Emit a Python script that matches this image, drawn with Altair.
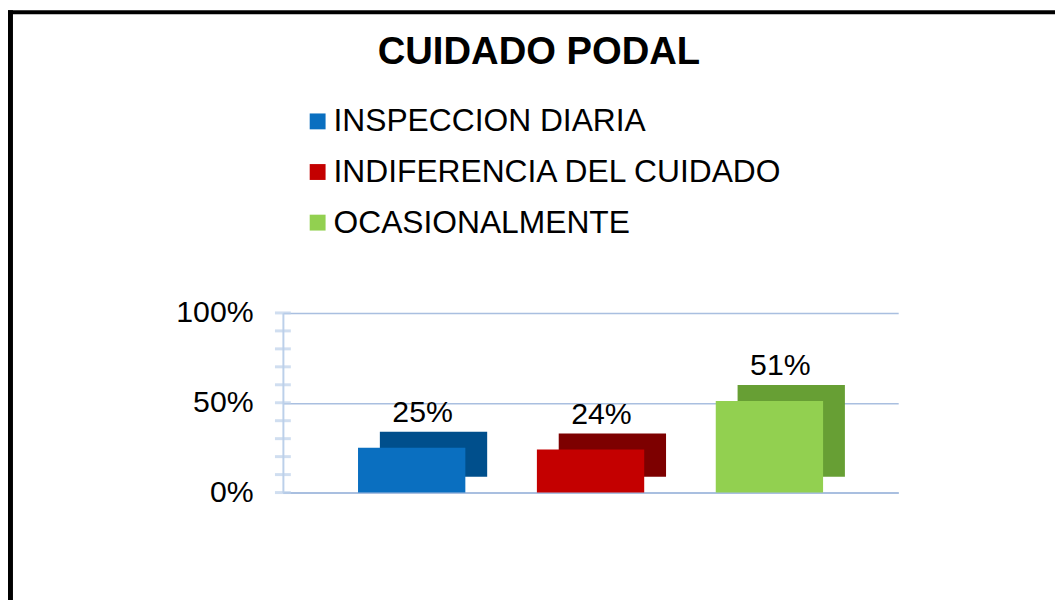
import altair as alt
import pandas as pd

categories = ["INSPECCION DIARIA", "INDIFERENCIA DEL CUIDADO", "OCASIONALMENTE"]
values = [0.25, 0.24, 0.51]
labels = ["25%", "24%", "51%"]
axis_labels = [0, 0.5, 1.0]
minor_ticks = [0, 0.1, 0.2, 0.3, 0.4, 0.5, 0.6, 0.7, 0.8, 0.9, 1.0]

front_colors = ["#0a6fc0", "#c40000", "#92d050"]
side_colors = ["#004f8c", "#7d0000", "#679f34"]

df = pd.DataFrame({"cat": categories, "val": values, "lbl": labels})
ticks_df = pd.DataFrame({"val": minor_ticks})

FONT = "Liberation Sans"
GRID = "#a9bfe0"

xenc = alt.X(
    "cat:N",
    sort=categories,
    scale=alt.Scale(paddingInner=0.40, paddingOuter=0.42),
    axis=alt.Axis(labels=False, ticks=False, title=None, grid=False,
                  domainColor=GRID, domainWidth=2),
)
yenc = alt.Y(
    "val:Q",
    scale=alt.Scale(domain=[0, 1]),
    axis=alt.Axis(
        values=axis_labels,
        format="%",
        labelOverlap=False,
        title=None,
        labelFont=FONT,
        labelFontSize=30.5,
        labelColor="black",
        labelPadding=30,
        ticks=False,
        domainColor="#bcd0ea",
        domainWidth=2,
        grid=True,
        gridColor=GRID,
        gridWidth=1.5,
    ),
)

base = alt.Chart(df)

side = base.mark_bar(xOffset=22, yOffset=-16, y2Offset=-16).encode(
    x=xenc,
    y=yenc,
    color=alt.Color("cat:N", scale=alt.Scale(domain=categories, range=side_colors), legend=None),
)

front = base.mark_bar().encode(
    x=xenc,
    y=yenc,
    color=alt.Color(
        "cat:N",
        scale=alt.Scale(domain=categories, range=front_colors),
        legend=alt.Legend(
            title=None,
            orient="none",
            legendX=19,
            legendY=-209,
            padding=0,
            direction="vertical",
            symbolType="square",
            symbolSize=256,
            symbolStrokeWidth=0,
            labelFont=FONT,
            labelFontSize=32,
            labelColor="black",
            labelLimit=700,
            labelOffset=0,
            rowPadding=19,
        ),
    ),
)

text = base.mark_text(font=FONT, fontSize=30.5, baseline="bottom", dy=-20, dx=11, color="black").encode(
    x=xenc,
    y=yenc,
    text="lbl:N",
)

minor = alt.Chart(ticks_df).mark_tick(
    orient="horizontal", color="#bcd0ea", thickness=3, size=16
).encode(
    x=alt.value(0),
    y=yenc,
)

frame_data = alt.Data(values=[{"k": 1}])
frame_left = alt.Chart(frame_data).mark_rule(color="black", strokeWidth=5).encode(
    x=alt.value(-274.5), y=alt.value(-305), y2=alt.value(300)
)
frame_top = alt.Chart(frame_data).mark_rule(color="black", strokeWidth=4).encode(
    x=alt.value(-277), x2=alt.value(800), y=alt.value(-303)
)

chart = (
    alt.layer(side, front, text, minor, frame_left, frame_top)
    .resolve_scale(color="independent")
    .properties(
        width=620,
        height=181,
        background="white",
        padding={"left": 277, "top": 305, "right": 158, "bottom": 106},
        autosize=alt.AutoSizeParams(type="none"),
        title=alt.TitleParams(
            "CUIDADO PODAL",
            font=FONT,
            fontSize=38.5,
            fontWeight="bold",
            color="black",
            anchor="middle",
            frame="group",
            dx=-52,
            dy=65,
            offset=0,
        ),
    )
    .configure_view(stroke="transparent", strokeWidth=0)
)

chart.save("out.html", embed_options={"renderer": "svg", "actions": False})
